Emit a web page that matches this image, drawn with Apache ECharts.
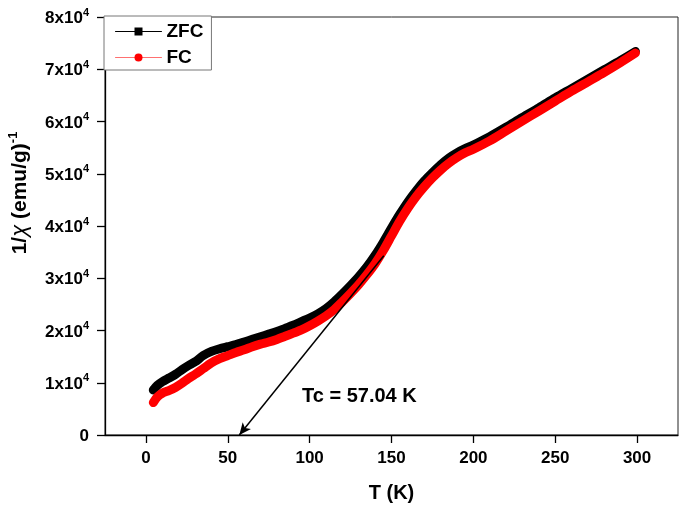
<!DOCTYPE html>
<html><head><meta charset="utf-8">
<script src="https://cdn.jsdelivr.net/npm/echarts@6/dist/echarts.min.js"></script>
<style>html,body{margin:0;padding:0;background:#fff}#c{width:685px;height:510px}</style>
</head><body><div id="c"></div>
<script>
const temps = [4.5, 7, 10, 14, 18, 22, 26, 30, 35, 40, 45, 50, 55, 60, 65, 70, 75, 80, 85, 90, 95, 100, 105, 110, 115, 120, 125, 130, 135, 140, 145, 150, 155, 160, 165, 170, 175, 180, 185, 190, 195, 200, 210, 220, 230, 240, 250, 260, 270, 280, 290, 299];
const zfc = [8600, 9500, 10200, 10900, 11600, 12500, 13300, 14000, 15200, 16000, 16500, 16900, 17300, 17800, 18300, 18800, 19300, 19800, 20400, 21000, 21700, 22400, 23200, 24200, 25500, 27000, 28600, 30300, 32200, 34400, 36900, 39600, 42200, 44600, 46700, 48600, 50200, 51700, 53000, 54000, 54800, 55500, 57100, 58900, 60800, 62600, 64500, 66300, 68100, 69900, 71700, 73400];
const fc = [6200, 7300, 8000, 8500, 9100, 9900, 10800, 11600, 12700, 13800, 14600, 15200, 15800, 16300, 16900, 17400, 17800, 18300, 18900, 19500, 20100, 20900, 21800, 22800, 24000, 25500, 27100, 28800, 30700, 32800, 35300, 38100, 40900, 43400, 45600, 47500, 49200, 50700, 52000, 53100, 54000, 54700, 56300, 58200, 60100, 62000, 63900, 65800, 67600, 69400, 71300, 73100];
const xTicks = [0, 50, 100, 150, 200, 250, 300];
const yTicks = [0, 10000, 20000, 30000, 40000, 50000, 60000, 70000, 80000];
const tc = 57.04;
const tangentTop = [145.3, 34300];
const seriesNames = ['ZFC', 'FC'];
const tcLabel = 'Tc = 57.04 K';

const FF = '"Liberation Sans", Arial, sans-serif';
const chart = echarts.init(document.getElementById('c'), null, {renderer: 'canvas'});
chart.setOption({
  animation: false,
  backgroundColor: '#fff',
  grid: {left: 105, right: 7, top: 17, bottom: 75, show: true, borderColor: '#222', borderWidth: 1, backgroundColor: 'transparent'},
  xAxis: {
    type: 'value', min: -25, max: 325,
    name: 'T (K)', nameLocation: 'middle', nameGap: 48,
    nameTextStyle: {fontFamily: FF, fontWeight: 'bold', fontSize: 20, color: '#000'},
    axisLine: {show: true, onZero: false, lineStyle: {color: '#000', width: 1.3}},
    axisTick: {show: true, inside: false, length: 8, customValues: xTicks, lineStyle: {color: '#000', width: 1.3}},
    axisLabel: {customValues: xTicks, margin: 15, fontFamily: FF, fontWeight: 'bold', fontSize: 17, color: '#000'},
    splitLine: {show: false}
  },
  yAxis: {
    type: 'value', min: yTicks[0], max: yTicks[yTicks.length - 1], interval: 10000,
    axisLine: {show: true, onZero: false, lineStyle: {color: '#000', width: 1.3}},
    axisTick: {show: true, inside: false, length: 8, lineStyle: {color: '#000', width: 1.3}},
    axisLabel: {
      margin: 16,
      formatter: v => v === 0 ? '{b|0}' : '{b|' + (v / 10000) + 'x10}{s|4}',
      rich: {
        b: {fontFamily: FF, fontWeight: 'bold', fontSize: 17, color: '#000', lineHeight: 20, verticalAlign: 'bottom'},
        s: {fontFamily: FF, fontWeight: 'bold', fontSize: 11, color: '#000', lineHeight: 11, verticalAlign: 'top'}
      }
    },
    splitLine: {show: false}
  },
  legend: {
    left: 104, top: 16, orient: 'vertical',
    backgroundColor: '#fff', borderColor: '#777', borderWidth: 1, borderRadius: 0,
    padding: [6, 8, 3, 11], itemWidth: 46, itemHeight: 10, itemGap: 7,
    textStyle: {fontFamily: FF, fontWeight: 'bold', fontSize: 19, color: '#000'},
    data: [
      {name: seriesNames[0], lineStyle: {width: 1, color: '#000'}, itemStyle: {color: '#000'}},
      {name: seriesNames[1], lineStyle: {width: 1, color: '#ff7070'}, itemStyle: {color: '#ff0000'}}
    ]
  },
  series: [
    {
      name: seriesNames[0], type: 'line', symbol: 'rect', showSymbol: false, smooth: 0.3,
      data: temps.map((t, i) => [t, zfc[i]]),
      itemStyle: {color: '#000'},
      lineStyle: {color: '#000', width: 9, cap: 'round', join: 'round'}, z: 2
    },
    {
      name: seriesNames[1], type: 'line', symbol: 'circle', showSymbol: false, smooth: 0.3,
      data: temps.map((t, i) => [t, fc[i]]),
      itemStyle: {color: '#ff0000'},
      lineStyle: {color: '#ff0000', width: 9, cap: 'round', join: 'round'}, z: 3
    },
    {
      type: 'line', data: [], z: 5, silent: true,
      markLine: {
        silent: true, animation: false, symbolSize: [8, 12],
        label: {show: false},
        lineStyle: {color: '#000', width: 1.5, type: 'solid'},
        data: [[{coord: tangentTop, symbol: 'none'}, {coord: [tc, 0], symbol: 'arrow'}]]
      }
    }
  ],
  graphic: [
    {type: 'text', left: 302, top: 386, z: 10, style: {text: tcLabel, fontFamily: FF, fontWeight: 'bold', fontSize: 20, fill: '#000'}},
    {type: 'text', x: 19, y: 193, rotation: Math.PI / 2, z: 10, style: {
      text: '{b|1/}{c|χ}{b| (emu/g)}{s|-1}', align: 'center', verticalAlign: 'middle',
      rich: {
        b: {fontFamily: FF, fontWeight: 'bold', fontSize: 21, fill: '#000', lineHeight: 24, verticalAlign: 'bottom'},
        c: {fontFamily: FF, fontWeight: 'normal', fontStyle: 'italic', fontSize: 22, fill: '#000', lineHeight: 24, verticalAlign: 'bottom'},
        s: {fontFamily: FF, fontWeight: 'bold', fontSize: 13, fill: '#000', lineHeight: 13, verticalAlign: 'top'}
      }
    }}
  ]
});
</script></body></html>
